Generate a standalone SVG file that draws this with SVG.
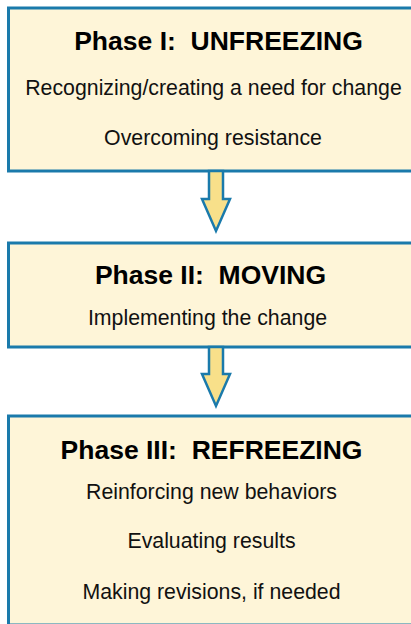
<svg xmlns="http://www.w3.org/2000/svg" width="411" height="624" viewBox="0 0 411 624">
<style>
.box{fill:#FEF5D8;stroke:#1A7AAB;stroke-width:3}
.arrow{fill:#F8E08A;stroke:#1A7AAB;stroke-width:2.5;stroke-linejoin:miter}
.t{font-family:"Liberation Sans",Arial,Helvetica,sans-serif;font-weight:bold;font-size:26.5px;fill:#000;text-anchor:middle}
.b{font-family:"Liberation Sans",Arial,Helvetica,sans-serif;font-size:21.3px;fill:#111;text-anchor:middle}
</style>
<rect width="411" height="624" fill="#fff"/>
<g id="phase1">
<rect class="box" x="8.5" y="8" width="430" height="163"/>
<text class="t" x="218.5" y="50" xml:space="preserve">Phase I:  UNFREEZING</text>
<text class="b" x="213.5" y="95">Recognizing/creating a need for change</text>
<text class="b" x="213" y="145">Overcoming resistance</text>
</g>
<g id="phase2">
<rect class="box" x="8.5" y="243" width="430" height="104"/>
<text class="t" x="210.5" y="284" xml:space="preserve">Phase II:  MOVING</text>
<text class="b" x="207.5" y="325">Implementing the change</text>
</g>
<g id="phase3">
<rect class="box" x="8.5" y="416" width="430" height="209"/>
<text class="t" x="211.5" y="459" xml:space="preserve">Phase III:  REFREEZING</text>
<text class="b" x="211.5" y="499">Reinforcing new behaviors</text>
<text class="b" x="211.5" y="548">Evaluating results</text>
<text class="b" x="211.5" y="599">Making revisions, if needed</text>
</g>
<g id="connectors">
<polygon class="arrow" points="209,171 223,171 223,199 230,199 216,231 202,199 209,199"/>
<polygon class="arrow" points="209,347 223,347 223,374 230,374 216,406 202,374 209,374"/>
</g>
</svg>
